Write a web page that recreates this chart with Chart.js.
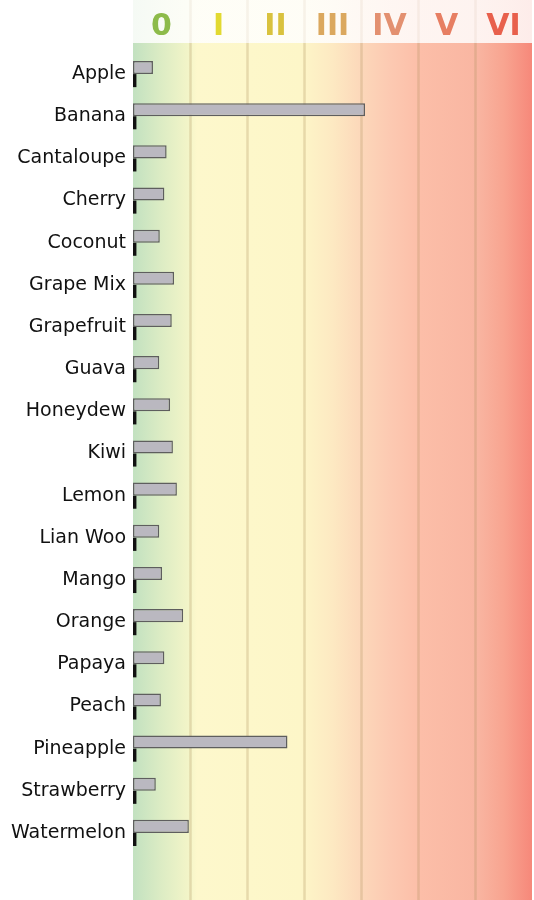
<!DOCTYPE html>
<html>
<head>
<meta charset="utf-8">
<script src="https://cdn.jsdelivr.net/npm/chart.js@4.4.0/dist/chart.umd.min.js"></script>
<style>
  html, body { margin: 0; padding: 0; background: #fff; }
  #wrap { width: 534px; height: 900px; }
</style>
</head>
<body>
<div id="wrap"><canvas id="fruitChart"></canvas></div>
<script>
// Fruit list, top to bottom
const fruits = ['Apple', 'Banana', 'Cantaloupe', 'Cherry', 'Coconut', 'Grape Mix', 'Grapefruit',
  'Guava', 'Honeydew', 'Kiwi', 'Lemon', 'Lian Woo', 'Mango', 'Orange', 'Papaya', 'Peach',
  'Pineapple', 'Strawberry', 'Watermelon'];

// Bar lengths (1 unit = one zone column)
const amounts = [0.35, 4.07, 0.59, 0.55, 0.47, 0.72, 0.68, 0.46, 0.65, 0.70, 0.77, 0.46,
  0.51, 0.88, 0.55, 0.49, 2.71, 0.40, 0.98];

// Small black marker under each bar
const markers = [0.06, 0.06, 0.06, 0.06, 0.06, 0.06, 0.06, 0.06, 0.06, 0.06, 0.06, 0.06,
  0.06, 0.06, 0.06, 0.06, 0.06, 0.06, 0.06];

// Zone headings along the top
const zoneLabels = ['0', 'I', 'II', 'III', 'IV', 'V', 'VI'];
const zoneColors = ['#8dbb4a', '#e2d930', '#d9c23e', '#dba85e', '#e39070', '#e77e62', '#e8604c'];

const HEADER_H = 43;

function zoneGradient(ctx, left, right) {
  const g = ctx.createLinearGradient(left, 0, right, 0);
  g.addColorStop(0.00, '#c2e1c0');
  g.addColorStop(0.07, '#dcecc4');
  g.addColorStop(0.14, '#f3f5c8');
  g.addColorStop(0.16, '#fdf8cc');
  g.addColorStop(0.42, '#fdf6c8');
  g.addColorStop(0.50, '#fde9c2');
  g.addColorStop(0.57, '#fcd8ba');
  g.addColorStop(0.64, '#fccab2');
  g.addColorStop(0.72, '#fcbea8');
  g.addColorStop(0.86, '#f9b6a2');
  g.addColorStop(0.93, '#f8a490');
  g.addColorStop(1.00, '#f6887a');
  return g;
}

const zoneBackground = {
  id: 'zoneBackground',
  beforeDraw(chart) {
    const { ctx } = chart;
    const x = chart.scales.x;
    const left = x.getPixelForValue(0);
    const right = x.getPixelForValue(zoneLabels.length);
    const g = zoneGradient(ctx, left, right);
    ctx.save();
    ctx.fillStyle = g;
    ctx.fillRect(left, HEADER_H, right - left, chart.height - HEADER_H);
    // pale header strip
    ctx.globalAlpha = 0.16;
    ctx.fillRect(left, 0, right - left, HEADER_H);
    ctx.globalAlpha = 1;
    // column dividers
    for (let i = 1; i < zoneLabels.length; i++) {
      const px = Math.round(x.getPixelForValue(i)) + 0.5;
      ctx.strokeStyle = 'rgba(175,145,95,0.28)';
      ctx.lineWidth = 2.5;
      ctx.beginPath();
      ctx.moveTo(px, HEADER_H);
      ctx.lineTo(px, chart.height);
      ctx.stroke();
      ctx.strokeStyle = 'rgba(200,175,150,0.15)';
      ctx.beginPath();
      ctx.moveTo(px, 0);
      ctx.lineTo(px, HEADER_H);
      ctx.stroke();
    }
    ctx.restore();
  }
};

new Chart(document.getElementById('fruitChart'), {
  type: 'bar',
  data: {
    labels: fruits,
    datasets: [{
      data: amounts,
      backgroundColor: '#bab8c0',
      borderColor: '#5e5e5e',
      borderWidth: 1.5,
      borderSkipped: false,
      categoryPercentage: 0.62,
      barPercentage: 1
    }, {
      data: markers,
      backgroundColor: '#111111',
      borderWidth: 0,
      categoryPercentage: 0.62,
      barPercentage: 1
    }]
  },
  options: {
    indexAxis: 'y',
    responsive: true,
    maintainAspectRatio: false,
    animation: false,
    layout: { padding: { top: 0, right: 2, bottom: 38, left: 0 } },
    plugins: {
      legend: { display: false },
      tooltip: { enabled: false }
    },
    scales: {
      x: {
        type: 'linear',
        min: 0,
        max: 7,
        position: 'bottom',
        grid: { display: false },
        border: { display: false },
        ticks: { display: false }
      },
      zones: {
        type: 'category',
        labels: zoneLabels,
        position: 'top',
        offset: true,
        grid: { display: false, drawTicks: false },
        border: { display: false },
        ticks: {
          padding: 8,
          color: zoneColors,
          font: { family: 'DejaVu Sans', size: 30, weight: 'bold' }
        },
        afterFit(s) { s.height = 53; }
      },
      y: {
        grid: { display: false, drawTicks: false },
        border: { display: false },
        ticks: {
          padding: 7,
          color: '#111111',
          font: { family: 'DejaVu Sans', size: 19 }
        },
        afterFit(s) { s.width = 133; }
      }
    }
  },
  plugins: [zoneBackground]
});
</script>
</body>
</html>
